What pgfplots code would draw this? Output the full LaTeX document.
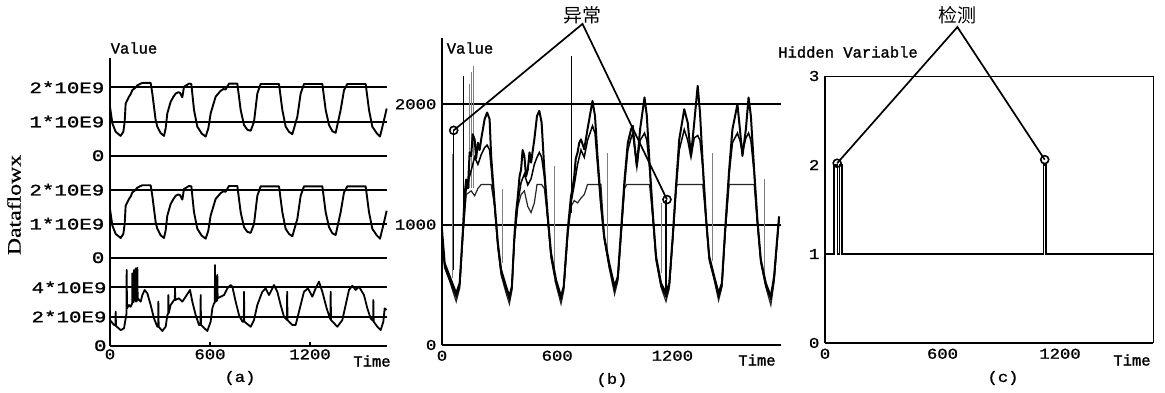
\documentclass[border=0pt]{standalone}
\usepackage{pgfplots}
\pgfplotsset{compat=1.18}
\usepackage{pgfplotstable}
\usepackage{fontspec}
\setmainfont{Liberation Serif}
\newfontfamily\mono[FakeBold=1.4]{Liberation Mono}
\newfontfamily\monot[FakeBold=1.2,FakeStretch=1.15]{Liberation Mono}
\newfontfamily\monoy[FakeBold=1.2,FakeStretch=1.3]{Liberation Mono}
\newfontfamily\serifw[FakeStretch=1.25,FakeBold=0.6]{Liberation Serif}
\newfontfamily\cjk{Noto Sans CJK SC}
\newcommand{\lab}{\mono\fontsize{15.5}{17}\selectfont}
\newcommand{\tlab}{\monot\fontsize{15}{17}\selectfont}
\newcommand{\ylab}{\monoy\fontsize{16}{18}\selectfont}

% (a) top and middle series (units of 1e9)
\pgfplotstableread{
t v
0 1.43
14 0.95
34 0.70
64 0.58
80 0.70
88 0.99
94 1.53
114 1.73
124 1.80
134 1.92
150 1.98
164 2.06
184 2.11
194 2.13
244 2.13
254 1.82
274 1.04
284 0.85
304 0.66
324 0.58
334 0.80
344 1.24
364 1.58
380 1.72
394 1.82
410 1.86
420 1.84
434 1.71
444 2.02
474 2.11
488 2.10
504 1.34
524 0.85
550 0.65
574 0.56
590 0.80
604 1.24
634 1.73
664 1.90
680 1.95
694 1.94
714 2.11
764 2.11
784 1.34
804 0.90
824 0.76
844 0.73
864 0.99
884 1.82
904 2.10
1014 2.10
1034 1.34
1054 0.85
1074 0.70
1094 0.63
1124 1.14
1144 1.82
1164 2.10
1274 2.10
1294 1.34
1314 0.90
1334 0.72
1354 0.67
1384 1.34
1404 1.92
1424 2.10
1534 2.10
1554 1.34
1574 0.85
1600 0.66
1620 0.56
1644 1.04
1660 1.38
}\tabA

% (a) bottom series (units of 1e9)
\pgfplotstableread{
t v
0 1.76
24 1.42
33 1.40
34 2.33
36 1.35
64 1.07
84 1.19
94 1.87
99 2.2
100 5.19
102 2.56
114 2.79
124 2.67
133 2.9
134 4.96
136 3.02
143 3.0
144 5.19
146 3.25
153 3.1
154 5.30
156 3.02
163 3.1
164 5.35
166 3.25
184 3.02
194 3.47
208 3.82
224 3.59
244 2.79
264 1.87
284 1.30
289 1.30
290 3.02
292 1.30
314 1.01
334 1.30
344 2.10
349 2.2
350 3.47
352 2.22
364 2.79
384 3.13
389 3.13
390 3.93
392 3.13
414 3.25
434 3.02
454 3.36
480 3.82
494 3.02
514 2.10
534 1.42
543 1.42
544 3.47
546 1.42
584 1.01
604 1.65
614 2.56
624 2.90
629 2.95
630 5.53
632 3.02
643 3.1
644 4.85
646 3.25
664 3.36
684 3.47
704 3.93
724 4.16
734 4.05
754 3.02
774 2.10
794 1.65
803 1.65
804 3.70
806 1.65
844 1.30
864 1.76
884 2.79
914 3.70
934 3.93
954 3.47
984 4.16
1004 3.70
1024 2.79
1044 1.99
1062 1.76
1063 3.70
1065 1.76
1094 1.42
1114 1.42
1144 2.79
1164 3.70
1188 3.93
1214 3.36
1234 3.93
1254 4.39
1274 3.70
1300 2.56
1320 1.87
1323 1.80
1324 3.70
1326 1.76
1364 1.30
1394 1.76
1414 2.79
1434 3.82
1454 4.11
1474 3.82
1494 4.05
1524 3.47
1544 2.56
1564 1.87
1579 1.70
1580 3.13
1582 1.65
1604 1.30
1624 1.07
1640 1.65
1648 2.56
1660 2.45
}\tabAc

% (b) series
\pgfplotstableread{
t v
0 958
14 680
40 570
74 430
92 514
109 958
118 1250
126 1375
135 1300
144 1600
152 1570
160 1750
170 1708
178 1550
187 1680
196 1620
204 1708
222 1875
235 1931
248 1875
256 1570
274 1180
291 847
308 625
334 486
351 403
364 486
377 903
386 1100
395 1236
404 1400
412 1458
420 1620
429 1570
438 1400
447 1458
456 1600
464 1514
481 1708
495 1903
507 1945
519 1847
533 1458
551 1069
568 764
594 542
620 403
634 486
655 958
672 1236
680 1300
689 1403
697 1550
706 1597
715 1680
724 1708
741 1625
758 1792
784 2028
797 1903
810 1570
828 1180
845 903
871 680
899 486
916 570
933 958
951 1375
968 1680
985 1792
994 1820
1004 1650
1015 1486
1032 1792
1055 2056
1067 1903
1081 1514
1098 1097
1115 736
1141 514
1167 430
1184 514
1202 903
1219 1320
1236 1708
1262 1958
1280 1847
1297 1570
1314 1847
1332 2153
1344 1931
1358 1514
1375 1069
1392 736
1418 570
1441 430
1458 514
1475 958
1496 1458
1513 1792
1539 2000
1552 1792
1565 1570
1583 1792
1597 2056
1609 1903
1626 1458
1643 1042
1661 708
1687 514
1713 403
1730 570
1747 903
1756 1069
}\tabBa

\pgfplotstableread{
t v
0 900
14 650
40 540
74 400
92 490
109 930
126 1300
140 1380
152 1450
170 1560
187 1500
204 1580
222 1640
235 1660
248 1620
256 1480
274 1150
291 830
308 600
334 460
351 380
364 470
377 880
395 1180
412 1350
429 1420
447 1330
464 1380
481 1500
495 1560
507 1600
519 1560
533 1400
551 1040
568 740
594 520
620 380
634 470
655 930
672 1180
689 1330
706 1500
724 1620
741 1560
758 1700
784 1820
797 1760
810 1500
828 1150
845 880
871 650
899 460
916 550
933 930
951 1330
968 1620
985 1720
994 1760
1015 1480
1032 1700
1055 1760
1067 1700
1081 1480
1098 1080
1115 720
1141 490
1167 400
1184 490
1202 880
1219 1280
1236 1620
1262 1790
1280 1700
1297 1560
1314 1720
1332 1740
1344 1700
1358 1480
1375 1050
1392 720
1418 550
1441 400
1458 490
1475 930
1496 1420
1513 1680
1539 1760
1552 1700
1565 1600
1583 1720
1597 1760
1609 1700
1626 1430
1643 1020
1661 690
1687 490
1713 380
1730 550
1747 880
1756 1050
}\tabBb

\pgfplotstableread{
t v
0 900
14 640
40 530
74 360
92 470
109 900
126 1250
152 1280
170 1240
187 1300
204 1333
256 1333
274 1150
291 800
308 580
334 430
351 340
364 450
377 860
395 1150
412 1250
429 1280
447 1150
464 1100
481 1180
495 1333
519 1333
533 1300
551 1040
568 720
594 500
620 340
634 450
655 900
672 1150
689 1200
706 1180
724 1220
741 1250
758 1333
828 1333
845 900
871 640
899 420
916 530
933 900
951 1300
962 1333
1081 1333
1098 1050
1115 700
1141 480
1167 360
1184 470
1202 870
1219 1300
1225 1333
1358 1333
1375 1040
1392 700
1418 540
1441 370
1458 480
1475 920
1496 1333
1626 1333
1643 1000
1661 680
1687 480
1713 330
1730 520
1747 870
1756 1040
}\tabBc

% thin grey spikes in (b)
\pgfplotstableread{
t v
52 560
52 1583
53 nan
144 1300
144 2167
145 nan
152 1300
152 2264
153 nan
166 1300
166 2320
167 nan
317 680
317 1292
318 nan
585 520
585 1486
586 nan
862 700
862 1597
863 nan
1141 600
1141 1180
1142 nan
1410 700
1410 1597
1411 nan
1681 560
1681 1375
}\tabBs

% black spikes in (b)
\pgfplotstableread{
t v
62 620
62 1783
63 nan
114 1014
114 2236
115 nan
675 1100
675 2403
676 nan
1167 450
1167 1208
}\tabBk

% (c) hidden variable
\pgfplotstableread{
t v
0 1
47 1
47 2
63 2
63 1
73 1
73 2
87 2
87 1
1115 1
1115 2
1129 2
1129 1
1675 1
}\tabC

\pgfplotsset{
  base/.style={scale only axis, anchor=south west,
    axis x line=bottom, axis y line=left,
    axis line style={-, line width=2pt, black},
    ymajorgrids, grid style={black, line width=2pt},
    ytick style={draw=none}, xtick style={draw=none},
    /pgf/number format/assume math mode=true,
    tick label style={font=\tlab},
    clip=false, enlargelimits=false},
}

\begin{document}
\begin{tikzpicture}
\path[use as bounding box] (0pt,0pt) rectangle (1165pt,392pt);

% ---------- (a) top
\begin{axis}[base, at={(110pt,236.3pt)}, width=277pt, height=97.7pt,
  xmin=0, xmax=1662, ymin=0, ymax=2.86, xtick=\empty,
  ytick={0,1,2}, yticklabels={0,1*10E9,2*10E9}, yticklabel style={font=\ylab}]
\addplot[black, line width=1.9pt, line join=round] table[x=t,y=v] {\tabA};
\end{axis}
% ---------- (a) middle
\begin{axis}[base, at={(110pt,134.3pt)}, width=277pt, height=102pt,
  xmin=0, xmax=1662, ymin=0, ymax=3.0, xtick=\empty,
  ytick={0,1,2}, yticklabels={0,1*10E9,2*10E9}, yticklabel style={font=\ylab}]
\addplot[black, line width=1.9pt, line join=round] table[x=t,y=v] {\tabA};
\end{axis}
% ---------- (a) bottom
\begin{axis}[base, at={(110pt,46.3pt)}, width=277pt, height=88pt,
  xmin=0, xmax=1662, ymin=0, ymax=6.03,
  xtick={0,600,1200}, xticklabels={0,600,1200},
  xtick style={draw=black, line width=1.2pt}, tick align=inside, major tick length=4pt,
  ytick={0,2,4}, yticklabels={0,2*10E9,4*10E9}, yticklabel style={font=\ylab}]
\addplot[black, line width=1.8pt, line join=round] table[x=t,y=v] {\tabAc};
\end{axis}

% ---------- (b)
\begin{axis}[base, at={(442pt,47pt)}, width=339pt, height=307pt,
  xmin=0, xmax=1766, ymin=0, ymax=2550,
  xtick={0,600,1200}, xticklabels={0,600,1200},
  ytick={0,1000,2000}, yticklabels={0,1000,2000}, unbounded coords=jump]
\addplot[black!85, line width=1.2pt] table[x=t,y=v] {\tabBc};
\addplot[gray, line width=0.8pt] table[x=t,y=v] {\tabBs};
\addplot[black, line width=1.5pt] table[x=t,y=v] {\tabBb};
\addplot[black, line width=2pt, line join=round] table[x=t,y=v] {\tabBa};
\addplot[black, line width=1.1pt] table[x=t,y=v] {\tabBk};
\draw[line width=1.7pt] (axis cs:61,1783) -- (axis cs:732,2667) -- (axis cs:1172,1208);
\addplot[only marks, mark=o, mark size=4pt, mark options={fill=white, line width=1.6pt}] coordinates {(61,1783) (1172,1208)};
\end{axis}

% ---------- (c)
\begin{axis}[base, ymajorgrids=false, at={(825pt,49pt)}, width=328pt, height=267pt,
  xmin=0, xmax=1675, ymin=0, ymax=3,
  xtick={0,600,1200}, xticklabels={0,600,1200},
  ytick={0,1,2,3}, yticklabels={0,1,2,3}]
\draw[line width=1pt] (rel axis cs:0,1) -- (rel axis cs:1,1) -- (rel axis cs:1,0);
\addplot[black, line width=1.6pt] table[x=t,y=v] {\tabC};
\draw[line width=1.7pt] (axis cs:62,2.02) -- (axis cs:676,3.55) -- (axis cs:1122,2.06);
\addplot[only marks, mark=o, mark size=4pt, mark options={fill=white, line width=1.6pt}] coordinates {(62,2.02) (1122,2.06)};
\end{axis}

% ---------- labels
\node[font=\lab] at (134pt,344pt) {Value};
\node[font=\serifw\fontsize{19}{21}\selectfont, rotate=90] at (14pt,187pt) {Dataflowx};
\node[font=\lab] at (372pt,31pt) {Time};
\node[font=\tlab] at (240pt,14pt) {(a)};
\node[font=\lab] at (470pt,344pt) {Value};
\node[font=\lab] at (757pt,32pt) {Time};
\node[font=\tlab] at (612pt,12pt) {(b)};
\node[font=\cjk\fontsize{19}{21}\selectfont] at (582pt,377pt) {异常};
\node[font=\lab] at (848pt,340pt) {Hidden Variable};
\node[font=\cjk\fontsize{19}{21}\selectfont] at (957pt,377pt) {检测};
\node[font=\lab] at (1132pt,32pt) {Time};
\node[font=\tlab] at (1003pt,14pt) {(c)};
\end{tikzpicture}
\end{document}
